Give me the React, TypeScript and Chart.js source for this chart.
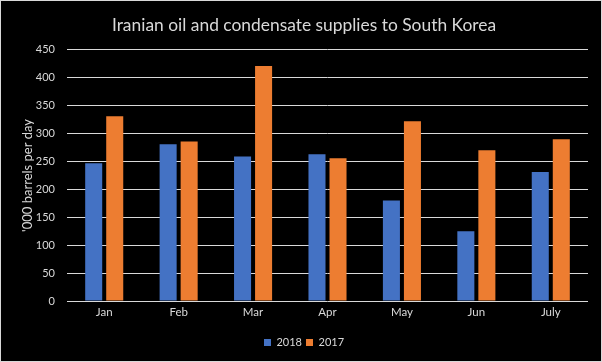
import React, { useEffect, useRef } from "react";
import { Chart, registerables } from "chart.js";

Chart.register(...registerables);

const categories = ["Jan", "Feb", "Mar", "Apr", "May", "Jun", "July"];
const series2018 = [247, 281, 259, 263, 180, 125, 231];
const series2017 = [331, 286, 421, 256, 322, 270, 290];
const yTicks = [0, 50, 100, 150, 200, 250, 300, 350, 400, 450];

const TEXT = "#d9d9d9";
const FONT = "Lato, 'Liberation Sans', sans-serif";

export default function App() {
  const ref = useRef<HTMLCanvasElement | null>(null);

  useEffect(() => {
    if (!ref.current) return;
    const chart = new Chart(ref.current, {
      type: "bar",
      data: {
        labels: categories,
        datasets: [
          {
            label: "2018",
            data: series2018,
            backgroundColor: "#4472C4",
            categoryPercentage: 0.565,
            barPercentage: 0.81,
          },
          {
            label: "2017",
            data: series2017,
            backgroundColor: "#ED7D31",
            categoryPercentage: 0.565,
            barPercentage: 0.81,
          },
        ],
      },
      options: {
        responsive: false,
        animation: false,
        devicePixelRatio: 1,
        layout: { padding: { left: 19, right: 13, top: 0, bottom: 3 } },
        plugins: {
          title: {
            display: true,
            text: "Iranian oil and condensate supplies to South Korea",
            color: TEXT,
            font: { family: FONT, size: 17.4, weight: "normal" },
            padding: { top: 14, bottom: 14 },
          },
          legend: {
            position: "bottom",
            labels: {
              color: TEXT,
              font: { family: FONT, size: 11 },
              boxWidth: 7,
              boxHeight: 7,
              padding: 4,
            },
          },
          tooltip: { enabled: false },
        },
        scales: {
          x: {
            grid: { display: false, drawTicks: false },
            border: { display: false },
            ticks: { color: TEXT, font: { family: FONT, size: 11.5 }, padding: 4 },
            afterFit: (scale: any) => {
              scale.height = 32;
            },
          },
          y: {
            min: 0,
            max: 450,
            afterBuildTicks: (scale: any) => {
              scale.ticks = yTicks.map((v) => ({ value: v }));
            },
            grid: { color: TEXT, lineWidth: 1, drawTicks: false },
            border: { display: false },
            ticks: { color: TEXT, font: { family: FONT, size: 11 }, padding: 12 },
            title: {
              display: true,
              text: "'000 barrels per day",
              color: TEXT,
              font: { family: FONT, size: 13 },
              padding: { top: 0, bottom: 0 },
            },
            afterFit: (scale: any) => {
              scale.width = 47;
            },
          },
        },
      },
    });
    return () => chart.destroy();
  }, []);

  return (
    <div
      style={{
        position: "fixed",
        left: 0,
        top: 0,
        width: 602,
        height: 362,
        boxSizing: "border-box",
        border: "1px solid #d9d9d9",
        background: "#000",
      }}
    >
      <canvas ref={ref} width={600} height={360} style={{ display: "block" }} />
    </div>
  );
}
